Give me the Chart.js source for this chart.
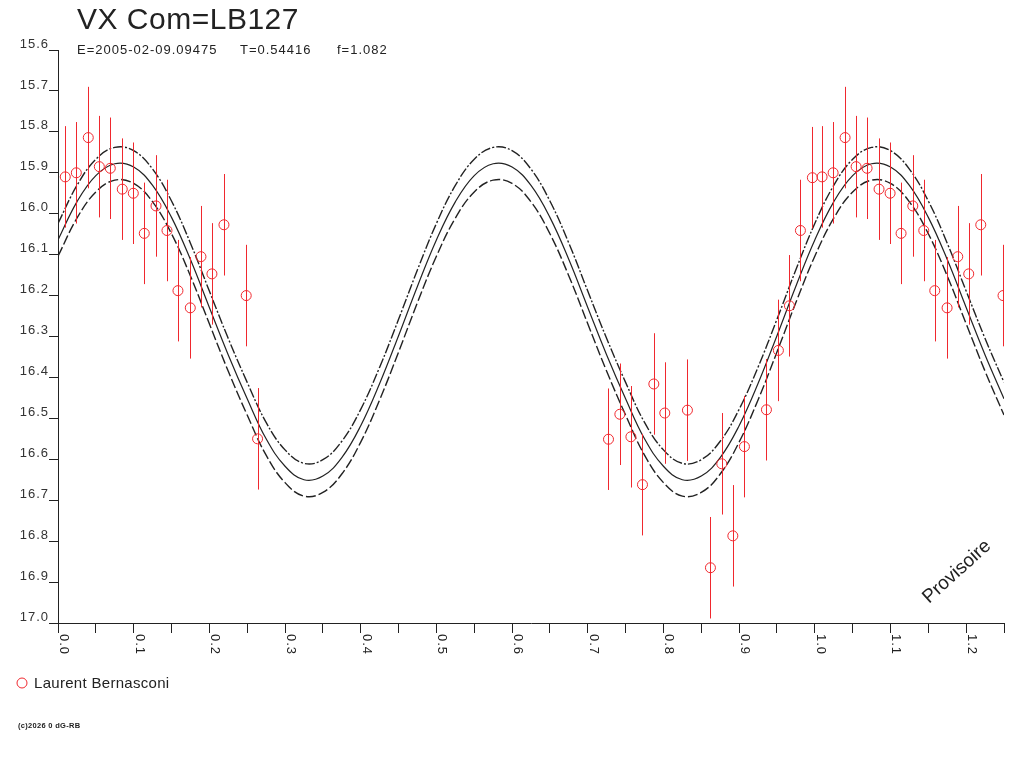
<!DOCTYPE html>
<html>
<head>
<meta charset="utf-8">
<title>VX Com=LB127</title>
<script src="https://cdn.jsdelivr.net/npm/chart.js@4.4.1/dist/chart.umd.min.js"></script>
<style>
  html, body { margin: 0; padding: 0; background: #fff; }
  #wrap { width: 1024px; height: 768px; }
</style>
</head>
<body>
<div id="wrap"><canvas id="lc" width="1024" height="768"></canvas></div>
<script>
// Observations (phase 0..1), magnitude and error
const obsPhase = [0.0096, 0.0242, 0.0400, 0.0546, 0.0691, 0.0849, 0.0995, 0.1140, 0.1295, 0.1440,
  0.1585, 0.1748, 0.1889, 0.2034, 0.2193, 0.2487, 0.2637,
  0.7274, 0.7424, 0.7570, 0.7723, 0.7873, 0.8018, 0.8317, 0.8621, 0.8771, 0.8917,
  0.9070, 0.9361, 0.9519, 0.9665, 0.9810, 0.9968];
const obsMag = [15.910, 15.900, 15.814, 15.885, 15.889, 15.940, 15.950, 16.048, 15.981, 16.041,
  16.188, 16.230, 16.105, 16.147, 16.027, 16.200, 16.550,
  16.551, 16.490, 16.545, 16.662, 16.416, 16.487, 16.480, 16.865, 16.611, 16.787,
  16.569, 16.479, 16.334, 16.225, 16.041, 15.912];
const obsErr = [0.124, 0.124, 0.124, 0.124, 0.124, 0.124, 0.124, 0.124, 0.124, 0.124,
  0.124, 0.124, 0.124, 0.124, 0.124, 0.124, 0.124,
  0.124, 0.124, 0.124, 0.124, 0.124, 0.124, 0.124, 0.124, 0.124, 0.124,
  0.124, 0.124, 0.124, 0.124, 0.124, 0.124];

// Fitted curve and its band
const curvePhase = [0, 0.025, 0.05, 0.075, 0.1, 0.125, 0.15, 0.175, 0.2, 0.225, 0.25, 0.275, 0.3,
  0.325, 0.35, 0.375, 0.4, 0.425, 0.45, 0.475, 0.5, 0.525, 0.55, 0.575, 0.6, 0.625, 0.65, 0.675,
  0.7, 0.725, 0.75, 0.775, 0.8, 0.825, 0.85, 0.875, 0.9, 0.925, 0.95, 0.975, 1.0, 1.025, 1.05,
  1.075, 1.1, 1.125, 1.15, 1.175, 1.2, 1.225, 1.25];
const fitMag = [16.064, 15.971, 15.907, 15.878, 15.886, 15.931, 16.009, 16.112, 16.229, 16.345,
  16.452, 16.550, 16.617, 16.650, 16.641, 16.596, 16.518, 16.415, 16.298, 16.177,
  16.064, 15.971, 15.907, 15.878, 15.886, 15.931, 16.009, 16.112, 16.229, 16.345,
  16.452, 16.550, 16.617, 16.650, 16.641, 16.596, 16.518, 16.415, 16.298, 16.177,
  16.064, 15.971, 15.907, 15.878, 15.886, 15.931, 16.009, 16.112, 16.229, 16.345, 16.452];
const upperMag = [16.024, 15.931, 15.867, 15.838, 15.846, 15.891, 15.969, 16.072, 16.189, 16.305,
  16.412, 16.510, 16.577, 16.610, 16.601, 16.556, 16.478, 16.375, 16.258, 16.137,
  16.024, 15.931, 15.867, 15.838, 15.846, 15.891, 15.969, 16.072, 16.189, 16.305,
  16.412, 16.510, 16.577, 16.610, 16.601, 16.556, 16.478, 16.375, 16.258, 16.137,
  16.024, 15.931, 15.867, 15.838, 15.846, 15.891, 15.969, 16.072, 16.189, 16.305, 16.412];
const lowerMag = [16.104, 16.011, 15.947, 15.918, 15.926, 15.971, 16.049, 16.152, 16.269, 16.385,
  16.492, 16.590, 16.657, 16.690, 16.681, 16.636, 16.558, 16.455, 16.338, 16.217,
  16.104, 16.011, 15.947, 15.918, 15.926, 15.971, 16.049, 16.152, 16.269, 16.385,
  16.492, 16.590, 16.657, 16.690, 16.681, 16.636, 16.558, 16.455, 16.338, 16.217,
  16.104, 16.011, 15.947, 15.918, 15.926, 15.971, 16.049, 16.152, 16.269, 16.385, 16.492];

// Axis ticks
const magTicks = [15.6, 15.7, 15.8, 15.9, 16.0, 16.1, 16.2, 16.3, 16.4, 16.5, 16.6, 16.7, 16.8, 16.9, 17.0];
const phaseMajor = [0, 0.1, 0.2, 0.3, 0.4, 0.5, 0.6, 0.7, 0.8, 0.9, 1.0, 1.1, 1.2];
const phaseMinor = [0.05, 0.15, 0.25, 0.35, 0.45, 0.55, 0.65, 0.75, 0.85, 0.95, 1.05, 1.15, 1.25];
const phaseLabels = ['0.0', '0.1', '0.2', '0.3', '0.4', '0.5', '0.6', '0.7', '0.8', '0.9', '1.0', '1.1', '1.2'];

const titleText = 'VX Com=LB127';
const subtitleParts = ['E=2005-02-09.09475', 'T=0.54416', 'f=1.082'];
const observer = 'Laurent Bernasconi';

const RED = '#f0282e';
const INK = '#222222';
const FONT = '"Liberation Sans", Arial, sans-serif';

// points shown at phase and phase+1 while inside the 0..1.25 window
const obsPoints = [];
obsPhase.forEach(function(p, i) {
  [p, p + 1].forEach(function(x) {
    if (x <= 1.25) obsPoints.push({ x: x, y: obsMag[i], e: obsErr[i] });
  });
});
const toXY = arr => curvePhase.map((p, i) => ({ x: p, y: arr[i] }));

const decorPlugin = {
  id: 'decor',
  beforeDraw(chart) {
    chart.ctx.letterSpacing = '1px';
  },
  afterDatasetsDraw(chart) {
    const ctx = chart.ctx;
    const xs = chart.scales.x, ys = chart.scales.y;
    ctx.save();
    ctx.strokeStyle = RED;
    ctx.lineWidth = 1;
    obsPoints.forEach(function(p) {
      const x = Math.round(xs.getPixelForValue(p.x)) + 0.5;
      ctx.beginPath();
      ctx.moveTo(x, ys.getPixelForValue(p.y - p.e));
      ctx.lineTo(x, ys.getPixelForValue(p.y + p.e));
      ctx.stroke();
    });
    ctx.restore();
  },
  afterDraw(chart) {
    const ctx = chart.ctx;
    const xs = chart.scales.x;
    const area = chart.chartArea;
    ctx.save();
    ctx.fillStyle = INK;

    // title + subtitle
    ctx.letterSpacing = '0.5px';
    ctx.font = '30px ' + FONT;
    ctx.textBaseline = 'alphabetic';
    ctx.textAlign = 'left';
    ctx.fillText(titleText, 77, 29);
    ctx.letterSpacing = '1px';
    ctx.font = '13px ' + FONT;
    ctx.fillText(subtitleParts[0], 77, 54);
    ctx.fillText(subtitleParts[1], 240, 54);
    ctx.fillText(subtitleParts[2], 337, 54);

    // x labels, rotated clockwise
    ctx.font = '13px ' + FONT;
    phaseMajor.forEach(function(v, i) {
      const x = xs.getPixelForValue(v);
      ctx.save();
      ctx.translate(x, area.bottom + 11);
      ctx.rotate(Math.PI / 2);
      ctx.textAlign = 'left';
      ctx.textBaseline = 'bottom';
      ctx.fillText(phaseLabels[i], 0, 1);
      ctx.restore();
    });

    // legend
    ctx.strokeStyle = RED;
    ctx.lineWidth = 1;
    ctx.beginPath();
    ctx.arc(22, 683, 5, 0, Math.PI * 2);
    ctx.stroke();
    ctx.letterSpacing = '0.3px';
    ctx.font = '15px ' + FONT;
    ctx.fillText(observer, 34, 688);

    // footer
    ctx.letterSpacing = '0.3px';
    ctx.font = 'bold 7.5px ' + FONT;
    ctx.fillText('(c)2026 0 dG-RB', 18, 728);

    // stamp
    ctx.letterSpacing = '0px';
    ctx.save();
    ctx.translate(929, 604);
    ctx.rotate(-42 * Math.PI / 180);
    ctx.font = '19px ' + FONT;
    ctx.fillText('Provisoire', 0, 0);
    ctx.restore();

    ctx.restore();
  }
};

const chart = new Chart(document.getElementById('lc').getContext('2d'), {
  type: 'scatter',
  data: {
    datasets: [
      {
        label: observer,
        data: obsPoints,
        pointStyle: 'circle',
        pointRadius: 5,
        pointBorderWidth: 1,
        pointBorderColor: RED,
        pointBackgroundColor: 'rgba(0,0,0,0)',
        showLine: false
      },
      {
        type: 'line',
        label: 'fit',
        data: toXY(fitMag),
        borderColor: INK,
        borderWidth: 1.2,
        pointRadius: 0,
        tension: 0.4,
        fill: false
      },
      {
        type: 'line',
        label: 'upper',
        data: toXY(upperMag),
        borderColor: INK,
        borderWidth: 1.4,
        borderDash: [10, 2, 2, 2],
        pointRadius: 0,
        tension: 0.4,
        fill: false
      },
      {
        type: 'line',
        label: 'lower',
        data: toXY(lowerMag),
        borderColor: INK,
        borderWidth: 1.4,
        borderDash: [10, 3],
        pointRadius: 0,
        tension: 0.4,
        fill: false
      }
    ]
  },
  options: {
    responsive: false,
    animation: false,
    events: [],
    layout: { padding: { top: 50, right: 20, bottom: 0, left: 0 } },
    plugins: {
      legend: { display: false },
      tooltip: { enabled: false },
      title: { display: false }
    },
    scales: {
      x: {
        type: 'linear',
        min: 0,
        max: 1.25,
        afterBuildTicks: function(scale) {
          scale.ticks = phaseMajor.concat(phaseMinor).sort((a, b) => a - b).map(v => ({ value: v }));
        },
        afterFit: function(scale) { scale.height = 145; },
        ticks: { display: false },
        border: { display: true, color: INK, width: 1 },
        grid: { drawOnChartArea: false, color: INK, tickLength: 10, lineWidth: 1 }
      },
      y: {
        type: 'linear',
        reverse: true,
        min: 15.6,
        max: 17.0,
        afterBuildTicks: function(scale) {
          scale.ticks = magTicks.map(v => ({ value: v }));
        },
        afterFit: function(scale) { scale.width = 58; },
        ticks: {
          autoSkip: false,
          padding: 0,
          labelOffset: -6,
          color: '#333',
          font: { family: FONT, size: 13 },
          callback: v => Number(v).toFixed(1)
        },
        border: { display: true, color: INK, width: 1 },
        grid: { drawOnChartArea: false, color: INK, tickLength: 9, lineWidth: 1 }
      }
    }
  },
  plugins: [decorPlugin]
});
</script>
</body>
</html>
